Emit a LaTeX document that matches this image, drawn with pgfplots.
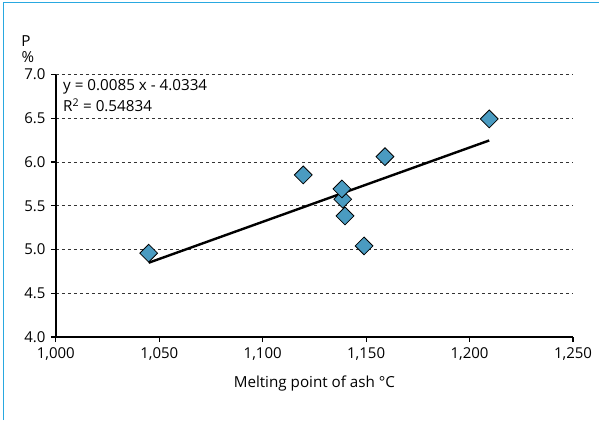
\documentclass[border=0pt]{standalone}
\usepackage{pgfplots}
\pgfplotsset{compat=1.18}
\usepackage{fontspec}
\setmainfont{Open Sans}
\definecolor{framecol}{HTML}{29A8E0}
\definecolor{ptcol}{HTML}{4A9BC1}
\begin{document}
\fontsize{15.2bp}{18bp}\selectfont
\begin{tikzpicture}[x=1bp,y=1bp]
\useasboundingbox (0,0) rectangle (599,420);
\draw[framecol, line width=1.5bp] (3.5,0) -- (3.5,417.5) -- (599,417.5);
\begin{axis}[
  at={(55.8bp,83bp)}, anchor=south west, scale only axis,
  width=517.2bp, height=262.4bp,
  xmin=1000, xmax=1250, ymin=4, ymax=7,
  axis x line=bottom, axis y line=left,
  axis line style={line width=2bp, -},
  xtick={1000,1050,1100,1150,1200,1250},
  ytick={4,4.5,5,5.5,6,6.5,7},
  /pgf/number format/assume math mode=true,
  ticklabel style={font=\fontsize{15bp}{18bp}\selectfont},
  xticklabel style={/pgf/number format/.cd, 1000 sep={,}},
  yticklabel style={/pgf/number format/.cd, fixed, fixed zerofill, precision=1},
  tick align=outside, major tick length=5bp,
  tick style={black, line width=1.2bp},
  ymajorgrids, grid style={dash pattern=on 3bp off 3bp, black!80, line width=0.8bp},
  xlabel={Melting point of ash °C},
  every axis x label/.style={at={(axis description cs:0.5,0)}, yshift=-47bp, anchor=center, font=\fontsize{15.2bp}{18bp}\selectfont},
  clip=false,
]
\addplot[black, line width=2.4bp] coordinates {(1044.9,4.849) (1209.5,6.247)};
\addplot[only marks, mark=square*, mark size=6.3bp,
  mark options={rotate=45, fill=ptcol, draw=black, line width=0.8bp}]
  coordinates {
  (1044.9,4.958)
  (1119.6,5.853)
  (1159.1,6.062)
  (1138.7,5.575)
  (1138.3,5.693)
  (1139.8,5.384)
  (1149.0,5.041)
  (1209.5,6.493)
  };
\end{axis}
\node at (26,379) {P};
\node at (28,363) {\%};
\node[anchor=west, inner sep=0] at (63,333) {y = 0.0085 x - 4.0334};
\node[anchor=west, inner sep=0] at (63,315) {R\textsuperscript{2} = 0.54834};
\end{tikzpicture}
\end{document}
